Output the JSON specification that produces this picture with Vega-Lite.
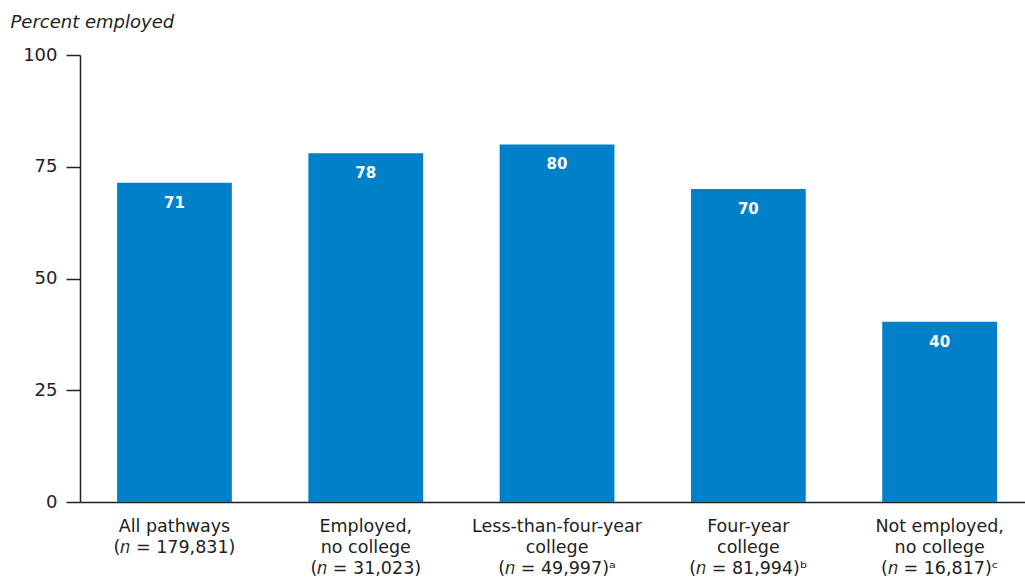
{
  "$schema": "https://vega.github.io/schema/vega-lite/v6.json",
  "width": 945,
  "height": 447,
  "autosize": {"type": "none"},
  "padding": {"left": 80, "top": 55, "right": 0, "bottom": 78},
  "background": "white",
  "config": {
    "view": {"stroke": null},
    "font": "DejaVu Sans"
  },
  "data": {
    "values": [
      {"pathway": "All pathways", "label": "All pathways|(𝑛 = 179,831)", "pct": 71.4},
      {"pathway": "Employed, no college", "label": "Employed,|no college|(𝑛 = 31,023)", "pct": 78},
      {"pathway": "Less-than-four-year college", "label": "Less-than-four-year|college|(𝑛 = 49,997)ᵃ", "pct": 80},
      {"pathway": "Four-year college", "label": "Four-year|college|(𝑛 = 81,994)ᵇ", "pct": 70},
      {"pathway": "Not employed, no college", "label": "Not employed,|no college|(𝑛 = 16,817)ᶜ", "pct": 40.3}
    ]
  },
  "encoding": {
    "x": {
      "field": "label",
      "type": "nominal",
      "sort": null,
      "scale": {"paddingInner": 0.4, "paddingOuter": 0.17, "align": 0.57},
      "axis": {
        "title": null,
        "labelAngle": 0,
        "labelExpr": "split(datum.label, '|')",
        "labelFontSize": 17.5,
        "labelLineHeight": 21,
        "labelColor": "#222",
        "labelPadding": 15,
        "ticks": false,
        "domainColor": "#222",
        "domainWidth": 1.5,
        "labelBaseline": "top"
      }
    }
  },
  "layer": [
    {
      "mark": {"type": "bar", "color": "#0080C8"},
      "encoding": {
        "y": {
          "field": "pct",
          "type": "quantitative",
          "scale": {"domain": [0, 100]},
          "axis": {
            "values": [0, 25, 50, 75, 100],
            "grid": false,
            "title": "Percent employed",
            "titleAngle": 0,
            "titleX": -70,
            "titleY": -28,
            "titleAlign": "left",
            "titleBaseline": "alphabetic",
            "titleFontStyle": "italic",
            "titleFontWeight": "normal",
            "titleFontSize": 18,
            "titleColor": "#222",
            "labelFontSize": 18,
            "labelColor": "#222",
            "labelPadding": 9,
            "tickSize": 14,
            "tickColor": "#222",
            "tickWidth": 1.5,
            "domainColor": "#222",
            "domainWidth": 1.5
          }
        }
      }
    },
    {
      "mark": {"type": "text", "color": "white", "fontWeight": "bold", "fontSize": 15, "baseline": "middle", "dy": 20},
      "encoding": {
        "y": {"field": "pct", "type": "quantitative"},
        "text": {"field": "pct", "type": "quantitative", "format": ".0f"}
      }
    }
  ]
}
